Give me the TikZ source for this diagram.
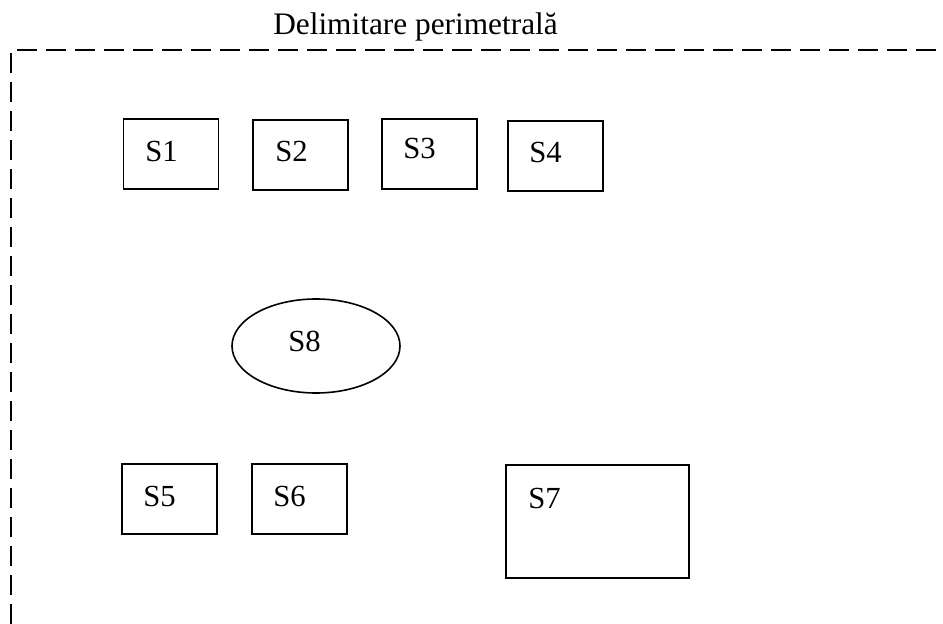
\documentclass[tikz,border=0pt]{standalone}
\usepackage{fontspec}
\setmainfont{Liberation Serif}
\usetikzlibrary{shapes.geometric}
\tikzset{
  px/.style={x=0.75pt,y=-0.75pt},
  sbox/.style={draw,line width=1.2pt,inner sep=0pt,minimum width=71.25pt,minimum height=52.5pt},
  lbl/.style={anchor=base west,inner sep=0pt,font=\fontsize{23}{27}\selectfont},
  border/.style={line width=1.5pt,dash pattern=on 15pt off 6.75pt},
}
\begin{document}
\begin{tikzpicture}[px]
\useasboundingbox (0,0) rectangle (943,624);
% perimeter
\coordinate (c0) at (11,624);
\coordinate (c1) at (11,50);
\coordinate (c2) at (943,50);
\draw[border] (c0) -- (c1) -- (c2);
\node[anchor=base,inner sep=0pt,font=\fontsize{23.5}{28}\selectfont] (title) at (415.5,35) {Delimitare perimetrală};
% boxes
\node[sbox] (s1) at (171,154) {};
\node[sbox] (s2) at (300.5,155) {};
\node[sbox] (s3) at (429.5,154) {};
\node[sbox] (s4) at (555.5,156) {};
\node[sbox] (s5) at (169.5,499) {};
\node[sbox] (s6) at (299.5,499) {};
\node[sbox,minimum width=137.25pt,minimum height=84.75pt] (s7) at (597.5,521.5) {};
\node[draw,ellipse,line width=1.2pt,inner sep=0pt,minimum width=126pt,minimum height=70.5pt] (s8) at (316,346) {};
% labels
\node[lbl] (t1) at (145,162) {S1};
\node[lbl] (t2) at (275,162) {S2};
\node[lbl] (t3) at (403,159) {S3};
\node[lbl] (t4) at (529,163) {S4};
\node[lbl] (t5) at (143,506) {S5};
\node[lbl] (t6) at (273,506) {S6};
\node[lbl] (t7) at (528,508) {S7};
\node[lbl] (t8) at (288,351) {S8};
\end{tikzpicture}
\end{document}
